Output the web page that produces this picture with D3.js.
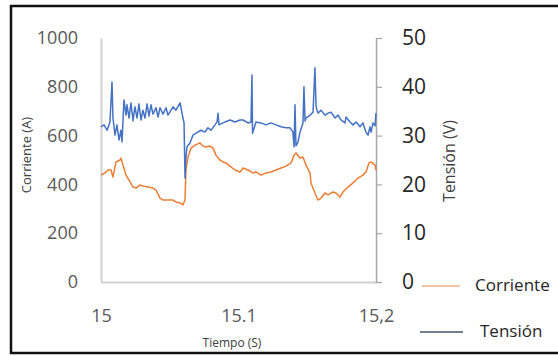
<!DOCTYPE html>
<html>
<head>
<meta charset="utf-8">
<script src="https://cdn.jsdelivr.net/npm/d3@7"></script>
<style>
    body { margin: 0; background: #fff; }
    svg text { font-family: "Open Sans", sans-serif; }
</style>
</head>
<body>
<script>
//x ticks and their labels (written as in the original)
var xTicks = [15, 15.1, 15.2];
var xTickLabels = ["15", "15.1", "15,2"];
var leftTicks = [0, 200, 400, 600, 800, 1000];
var rightTicks = [0, 10, 20, 30, 40, 50];

//Corriente (A)
var tiempoCorriente = [15.0000, 15.0029, 15.0051, 15.0073, 15.0087, 15.0109, 15.0138, 15.0145, 15.0160, 15.0182,
    15.0211, 15.0233, 15.0255, 15.0284, 15.0305, 15.0342, 15.0378, 15.0400, 15.0429, 15.0451,
    15.0487, 15.0524, 15.0545, 15.0575, 15.0596, 15.0611, 15.0618, 15.0633, 15.0655, 15.0684,
    15.0720, 15.0742, 15.0764, 15.0793, 15.0815, 15.0836, 15.0865, 15.0887, 15.0909, 15.0938,
    15.0975, 15.1011, 15.1033, 15.1069, 15.1105, 15.1127, 15.1164, 15.1200, 15.1236, 15.1273,
    15.1309, 15.1345, 15.1382, 15.1404, 15.1418, 15.1447, 15.1469, 15.1491, 15.1520, 15.1527,
    15.1556, 15.1578, 15.1600, 15.1629, 15.1651, 15.1687, 15.1709, 15.1738, 15.1760, 15.1796,
    15.1833, 15.1869, 15.1905, 15.1927, 15.1949, 15.1964, 15.1993, 15.2000];
var corriente = [438, 447, 459, 459, 430, 492, 500, 508, 479, 438,
    410, 389, 385, 398, 393, 389, 385, 377, 344, 336,
    336, 336, 328, 324, 316, 336, 459, 512, 549, 561,
    570, 557, 553, 557, 549, 520, 500, 492, 488, 475,
    459, 451, 467, 459, 447, 451, 438, 447, 451, 459,
    467, 475, 488, 520, 529, 508, 512, 479, 447, 406,
    365, 336, 344, 365, 357, 369, 365, 348, 369, 389,
    406, 426, 438, 451, 488, 492, 479, 459];

//Tensión (V)
var tiempoTension = [15.0000, 15.0022, 15.0044, 15.0065, 15.0080, 15.0087, 15.0102, 15.0116, 15.0131, 15.0145,
    15.0153, 15.0167, 15.0182, 15.0189, 15.0204, 15.0218, 15.0233, 15.0247, 15.0262, 15.0276,
    15.0291, 15.0305, 15.0320, 15.0335, 15.0349, 15.0364, 15.0378, 15.0400, 15.0415, 15.0429,
    15.0451, 15.0473, 15.0487, 15.0524, 15.0545, 15.0575, 15.0582, 15.0596, 15.0604, 15.0611,
    15.0618, 15.0625, 15.0647, 15.0669, 15.0691, 15.0727, 15.0756, 15.0778, 15.0800, 15.0829,
    15.0844, 15.0851, 15.0858, 15.0902, 15.0938, 15.0975, 15.1011, 15.1033, 15.1069, 15.1091,
    15.1098, 15.1102, 15.1127, 15.1164, 15.1200, 15.1236, 15.1273, 15.1309, 15.1345, 15.1375,
    15.1396, 15.1404, 15.1411, 15.1418, 15.1433, 15.1447, 15.1469, 15.1476, 15.1484, 15.1491,
    15.1520, 15.1542, 15.1556, 15.1564, 15.1578, 15.1600, 15.1629, 15.1651, 15.1673, 15.1702,
    15.1724, 15.1745, 15.1775, 15.1782, 15.1811, 15.1833, 15.1855, 15.1884, 15.1905, 15.1927,
    15.1942, 15.1956, 15.1964, 15.1978, 15.1993, 15.2000];
var tension = [31.8, 32.2, 31.1, 32.8, 41.0, 33.6, 30.1, 32.2, 29.1, 31.1,
    28.7, 37.3, 34.2, 36.3, 33.6, 36.7, 33.0, 35.9, 33.6, 36.5,
    33.2, 35.2, 33.6, 36.5, 34.0, 36.3, 34.4, 35.7, 33.8, 35.7,
    34.4, 35.7, 34.2, 35.9, 35.2, 36.7, 35.7, 33.6, 32.6, 21.3,
    25.6, 27.7, 28.5, 30.1, 30.5, 31.1, 30.7, 31.6, 31.1, 32.2,
    32.8, 34.6, 32.2, 32.8, 33.2, 32.8, 33.2, 33.2, 32.6, 32.8,
    42.4, 30.5, 32.8, 32.6, 32.2, 32.6, 32.2, 31.8, 31.6, 31.6,
    30.7, 27.7, 36.3, 27.9, 28.7, 30.7, 32.6, 40.0, 33.0, 33.6,
    34.2, 34.8, 43.9, 35.9, 34.6, 35.2, 34.2, 34.6, 34.8, 33.6,
    34.2, 33.2, 32.6, 33.8, 32.8, 32.2, 32.8, 31.8, 32.6, 30.7,
    30.1, 31.8, 30.7, 32.6, 32.0, 34.6];

window.onload = setChart();

function setChart(){
    //frame dimensions
    var width = 558,
        height = 356;

    var svg = d3.select("body")
        .append("svg")
        .attr("width", width)
        .attr("height", height);

    //outer black frame
    svg.append("rect")
        .attr("x", 11)
        .attr("y", 6)
        .attr("width", 560)
        .attr("height", 347)
        .attr("fill", "#fff")
        .attr("stroke", "#111")
        .attr("stroke-width", 2.5);

    //scales
    var x = d3.scaleLinear().domain([15, 15.2]).range([101, 376]);
    var yLeft = d3.scaleLinear().domain([0, 1000]).range([282, 38]);
    var yRight = d3.scaleLinear().domain([0, 50]).range([282, 38]);

    //left axis (no ticks, grey line)
    var leftAxis = svg.append("g")
        .attr("transform", "translate(101,0)")
        .call(d3.axisLeft(yLeft).tickValues(leftTicks).tickSize(0).tickPadding(23)
            .tickFormat(d3.format("d")));
    leftAxis.select(".domain").attr("stroke", "#d0d0d0").attr("stroke-width", 2);
    leftAxis.selectAll("text")
        .attr("fill", "#595959")
        .style("font-size", "18px");

    //bottom axis
    var bottomAxis = svg.append("g")
        .attr("transform", "translate(0,282)")
        .call(d3.axisBottom(x).tickValues(xTicks).tickSize(0).tickPadding(27)
            .tickFormat(function(d, i){ return xTickLabels[i]; }));
    bottomAxis.select(".domain").attr("stroke", "#d0d0d0").attr("stroke-width", 2);
    bottomAxis.selectAll("text")
        .attr("fill", "#595959")
        .style("font-size", "18px");

    //right axis with outward ticks
    var rightAxis = svg.append("g")
        .attr("transform", "translate(376,0)")
        .call(d3.axisRight(yRight).tickValues(rightTicks).tickSizeInner(6).tickSizeOuter(0).tickPadding(20));
    rightAxis.select(".domain").attr("stroke", "#a6a6a6").attr("stroke-width", 1.5);
    rightAxis.selectAll("line").attr("stroke", "#a6a6a6").attr("stroke-width", 1.2);
    rightAxis.selectAll("text")
        .attr("fill", "#262626")
        .style("font-size", "21px");

    //axis titles
    svg.append("text")
        .attr("transform", "translate(31,155) rotate(-90)")
        .attr("text-anchor", "middle")
        .attr("fill", "#404040")
        .style("font-size", "13px")
        .text("Corriente (A)");

    svg.append("text")
        .attr("transform", "translate(455,161) rotate(-90)")
        .attr("text-anchor", "middle")
        .attr("fill", "#404040")
        .style("font-size", "16px")
        .text("Tensión (V)");

    svg.append("text")
        .attr("x", 232)
        .attr("y", 347)
        .attr("text-anchor", "middle")
        .attr("fill", "#404040")
        .style("font-size", "12px")
        .text("Tiempo (S)");

    //lines
    var lineCorriente = d3.line()
        .x(function(d, i){ return x(tiempoCorriente[i]); })
        .y(function(d){ return yLeft(d); });
    var lineTension = d3.line()
        .x(function(d, i){ return x(tiempoTension[i]); })
        .y(function(d){ return yRight(d); });

    svg.append("path")
        .datum(corriente)
        .attr("fill", "none")
        .attr("stroke", "#ed7d31")
        .attr("stroke-width", 1.5)
        .attr("stroke-linejoin", "round")
        .attr("d", lineCorriente);

    svg.append("path")
        .datum(tension)
        .attr("fill", "none")
        .attr("stroke", "#4472c4")
        .attr("stroke-width", 1.5)
        .attr("stroke-linejoin", "round")
        .attr("d", lineTension);

    //legend
    var legend = [
        {name: "Corriente", color: "#f4b183", x1: 422, x2: 460, y: 286, tx: 475},
        {name: "Tensión", color: "#44546a", x1: 420, x2: 463, y: 332, tx: 480}
    ];
    legend.forEach(function(l){
        svg.append("line")
            .attr("x1", l.x1).attr("x2", l.x2)
            .attr("y1", l.y).attr("y2", l.y)
            .attr("stroke", l.color)
            .attr("stroke-width", 1.5);
        svg.append("text")
            .attr("x", l.tx)
            .attr("y", l.y - 1)
            .attr("dy", "0.35em")
            .attr("fill", "#262626")
            .style("font-size", "17px")
            .text(l.name);
    });
};
</script>
</body>
</html>
